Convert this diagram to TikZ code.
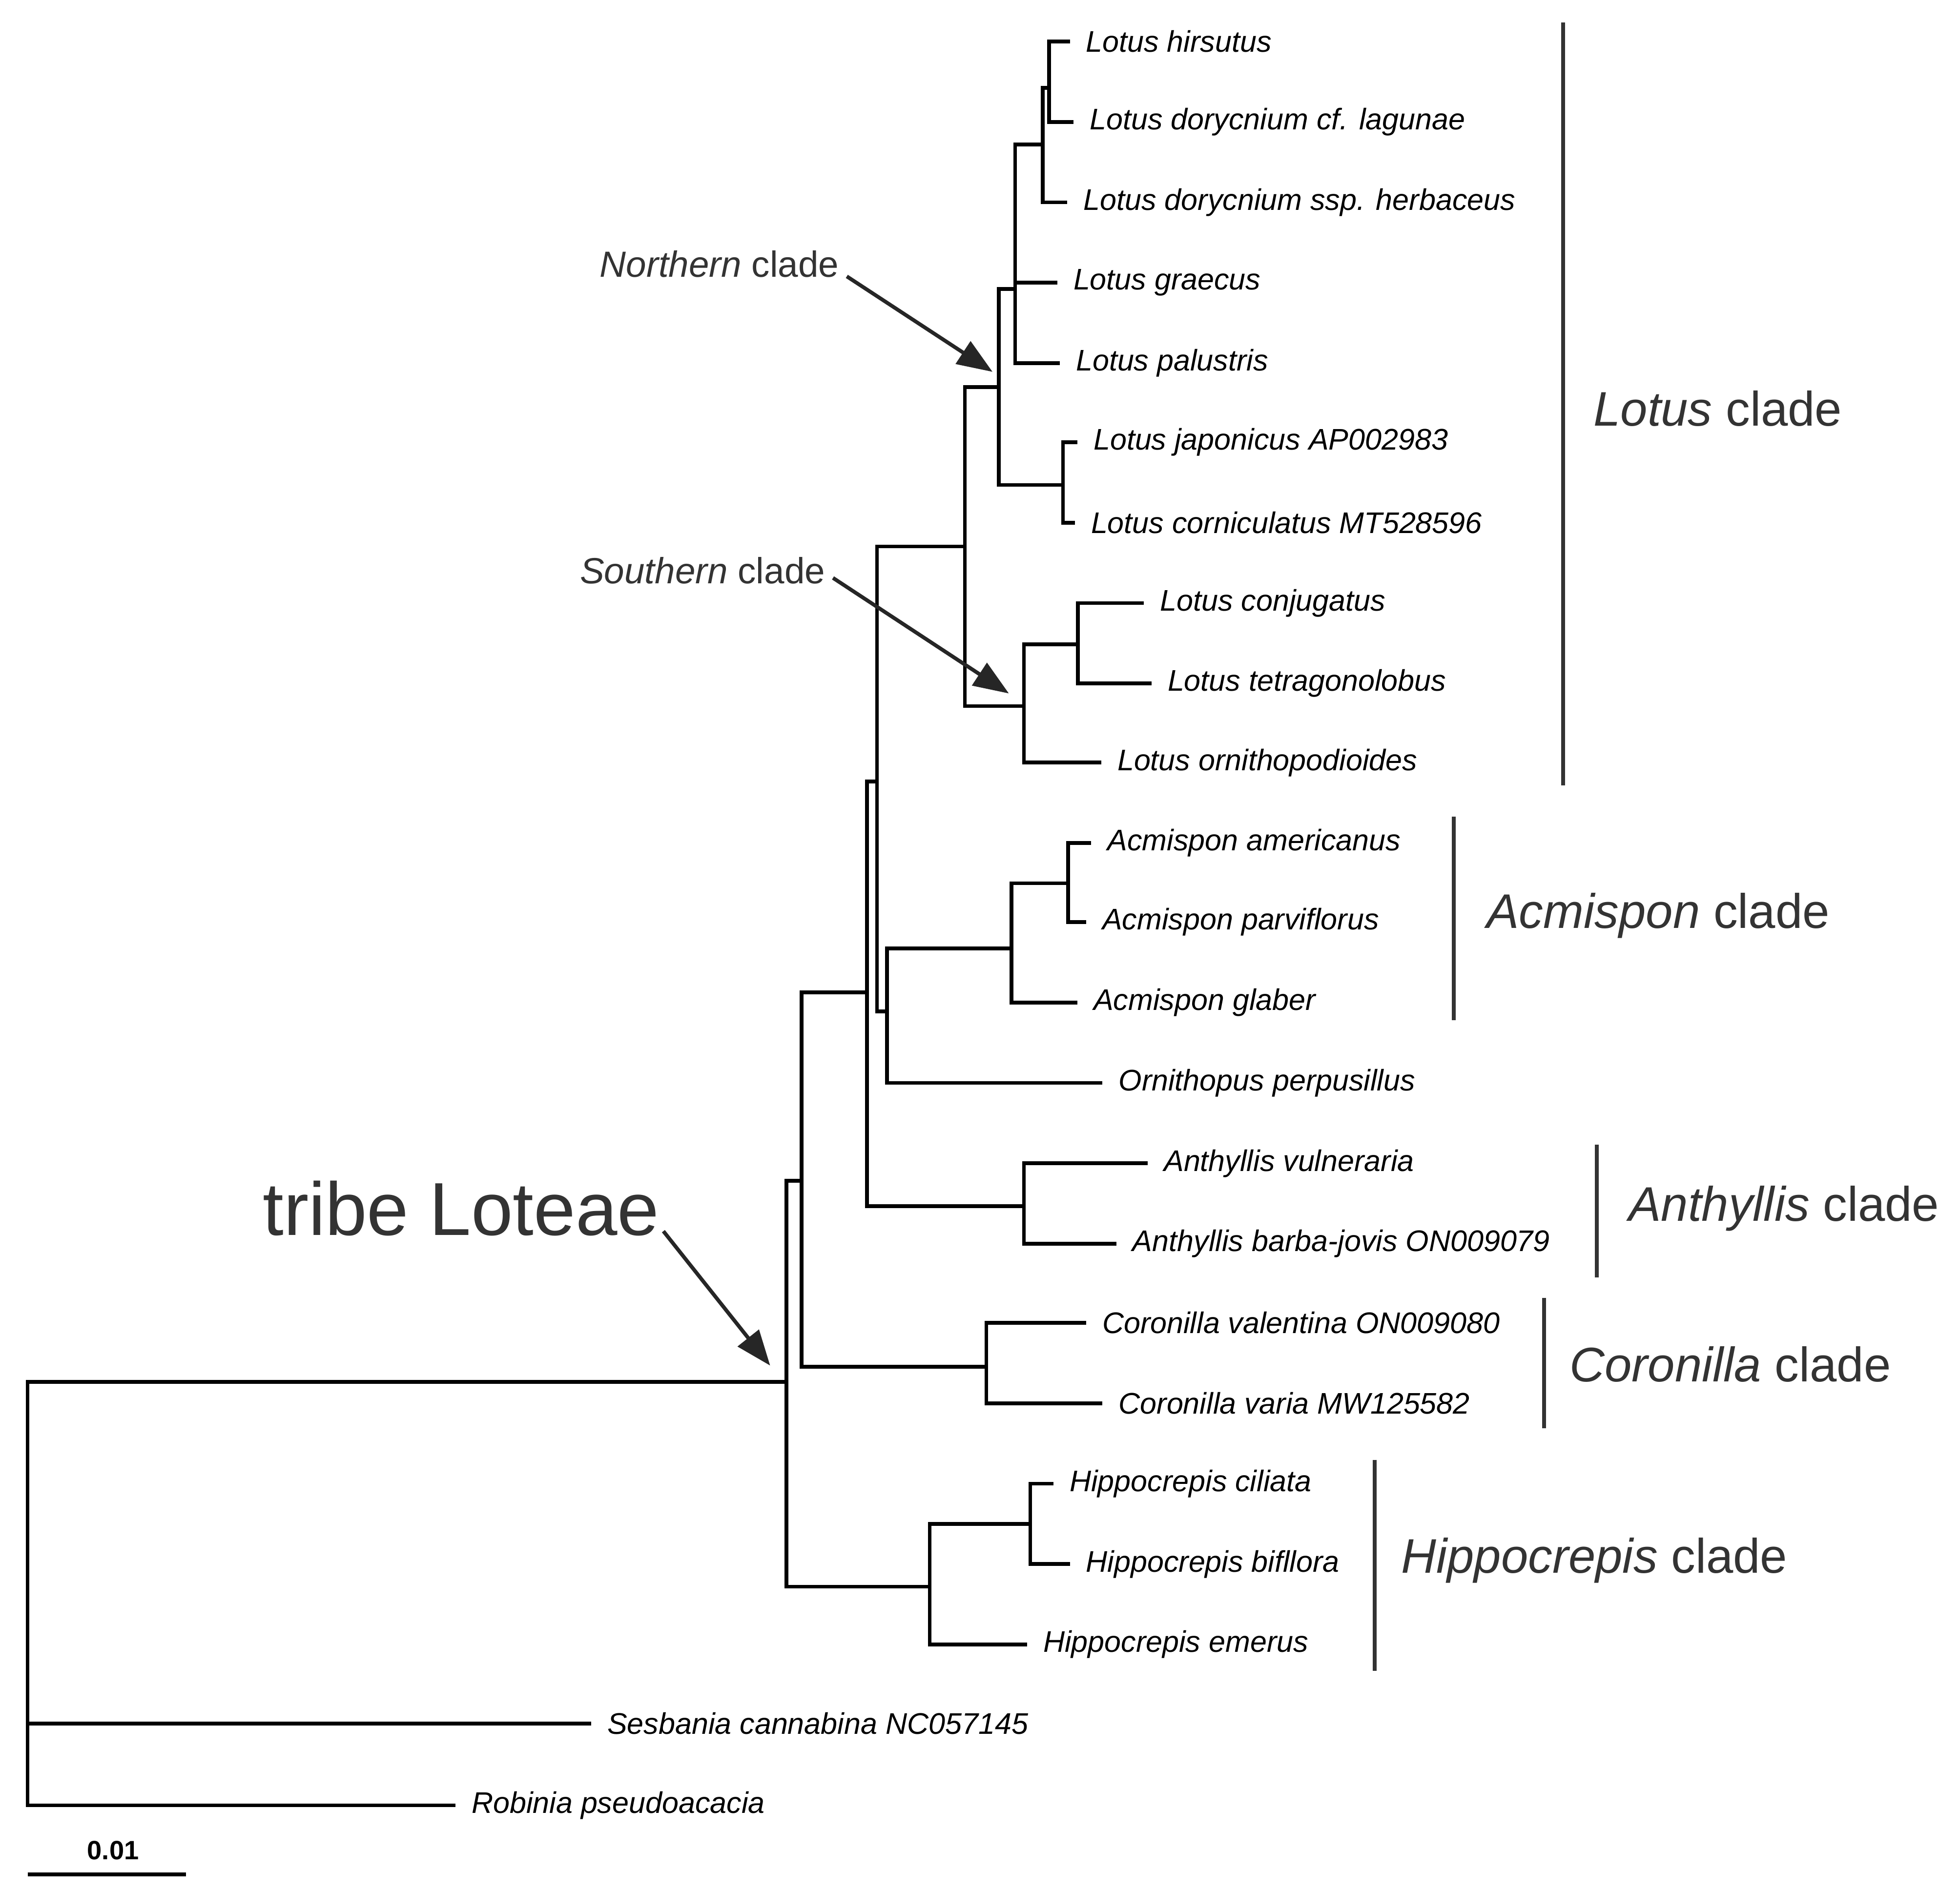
\documentclass[tikz,border=0pt]{standalone}
\usepackage{fontspec}
\setmainfont{Liberation Sans}
\usetikzlibrary{arrows.meta}
\tikzset{
  branch/.style={line width=1.7pt,line cap=rect},
  taxon/.style={anchor=west,xshift=8pt,inner sep=0pt,font=\fontsize{13.5}{15}\selectfont\itshape},
  cladebar/.style={line width=1.7pt,draw=black!80},
  cladename/.style={anchor=west,inner sep=0pt,text=black!80,font=\fontsize{22}{24}\selectfont},
  pointer/.style={line width=1.7pt,draw=black!85,-{Triangle[length=16pt,width=12pt]}},
}
\begin{document}
\begin{tikzpicture}[x=0.02cm,y=-0.02cm]
\useasboundingbox (0,0) rectangle (1560,1505);
% internal nodes
\coordinate (root) at (22,1100);
\coordinate (lot) at (626,1100);
\coordinate (a) at (638,940);
\coordinate (hip) at (740,1263);
\coordinate (b) at (690,790);
\coordinate (cor) at (785,1088);
\coordinate (c) at (698,622);
\coordinate (ant) at (815,960);
\coordinate (d) at (768,435);
\coordinate (e) at (706,805);
\coordinate (acm) at (805,755);
\coordinate (acmb) at (850,703);
\coordinate (nor) at (795,308);
\coordinate (sou) at (815,562);
\coordinate (con) at (858,513);
\coordinate (jap) at (846,386);
\coordinate (f) at (808,230);
\coordinate (g) at (830,115);
\coordinate (h) at (835,70);
\coordinate (hipb) at (820,1213);
% leaves
\foreach \n/\x/\y/\t in {
  hir/850/33/{Lotus hirsutus},
  dla/853/97/{Lotus dorycnium cf. lagunae},
  dhe/848/161/{Lotus dorycnium ssp. herbaceus},
  gra/840/225/{Lotus graecus},
  pal/842/289/{Lotus palustris},
  ljap/856/352/{Lotus japonicus AP002983},
  lcor/854/416/{Lotus corniculatus MT528596},
  conj/909/480/{Lotus conjugatus},
  tet/915/544/{Lotus tetragonolobus},
  orn/875/607/{Lotus ornithopodioides},
  ame/867/671/{Acmispon americanus},
  par/863/734/{Acmispon parviflorus},
  gla/856/798/{Acmispon glaber},
  perp/876/862/{Ornithopus perpusillus},
  vul/912/926/{Anthyllis vulneraria},
  bar/887/990/{Anthyllis barba-jovis ON009079},
  val/863/1053/{Coronilla valentina ON009080},
  var/876/1117/{Coronilla varia MW125582},
  cil/837/1181/{Hippocrepis ciliata},
  bif/850/1245/{Hippocrepis bifllora},
  eme/816/1309/{Hippocrepis emerus},
  ses/469/1372/{Sesbania cannabina NC057145},
  rob/361/1437/{Robinia pseudoacacia}}
  {\coordinate (\n) at (\x,\y);
   \node[taxon] (\n-l) at (\n) {\t};}
% branches
\foreach \p/\q in {root/lot,root/ses,root/rob,lot/a,lot/hip,a/b,a/cor,b/c,b/ant,
  c/d,c/e,d/nor,d/sou,nor/f,nor/jap,f/g,f/gra,f/pal,g/h,g/dhe,h/hir,h/dla,
  jap/ljap,jap/lcor,sou/con,sou/orn,con/conj,con/tet,e/acm,e/perp,acm/acmb,acm/gla,
  acmb/ame,acmb/par,ant/vul,ant/bar,cor/val,cor/var,hip/hipb,hip/eme,hipb/cil,hipb/bif}
  \draw[branch] (\p) |- (\q);
% clade bars
\draw[cladebar] (1244,18) -- (1244,625);
\node[cladename] (lotus) at (1268,325) {\textit{Lotus} clade};
\draw[cladebar] (1157,650) -- (1157,812);
\node[cladename] (acmispon) at (1183,729) {\textit{Acmispon} clade};
\draw[cladebar] (1271,911) -- (1271,1017);
\node[cladename] (anthyllis) at (1296,962) {\textit{Anthyllis} clade};
\draw[cladebar] (1229,1033) -- (1229,1137);
\node[cladename] (coronilla) at (1249,1086) {\textit{Coronilla} clade};
\draw[cladebar] (1094,1162) -- (1094,1330);
\node[cladename] (hippocrepis) at (1115,1242) {\textit{Hippocrepis} clade};
% annotations
\node[anchor=east,inner sep=0pt,text=black!80,font=\fontsize{16.5}{18}\selectfont] (northern) at (668,210) {\textit{Northern} clade};
\coordinate (nortip) at (790,296);
\draw[pointer] (northern.east) ++(6,10) -- (nortip);
\node[anchor=east,inner sep=0pt,text=black!80,font=\fontsize{16.5}{18}\selectfont] (southern) at (657,454) {\textit{Southern} clade};
\coordinate (soutip) at (803,552);
\draw[pointer] (southern.east) ++(6,6) -- (soutip);
\node[anchor=east,inner sep=0pt,text=black!80,font=\fontsize{34}{36}\selectfont] (tribe) at (525,962) {tribe Loteae};
\coordinate (tritip) at (613,1087);
\draw[pointer] (528,980) -- (tritip);
% scale bar
\coordinate (s0) at (22,1492);
\coordinate (s1) at (148,1492);
\draw[branch,line cap=butt] (s0) -- (s1);
\node[inner sep=0pt,font=\fontsize{12}{14}\selectfont\bfseries] (scale) at (90,1473) {0.01};
\end{tikzpicture}
\end{document}
